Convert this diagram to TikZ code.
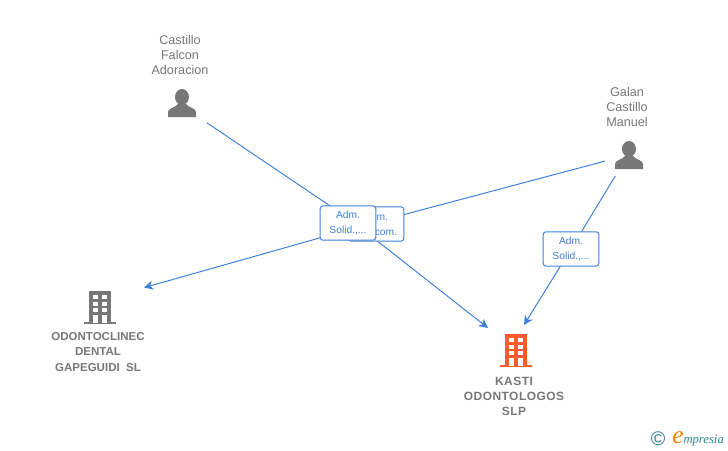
\documentclass[tikz,border=0pt]{standalone}
\usepackage{fontspec}
\setmainfont{Liberation Sans}
\newfontfamily\logofont{Liberation Serif}
\usetikzlibrary{arrows.meta}
\definecolor{gristexto}{HTML}{777777}
\definecolor{azul}{HTML}{3F80DC}
\definecolor{naranja}{HTML}{FF5B2E}
\definecolor{verdelogo}{HTML}{2F7F8F}
\tikzset{
  hueco/.style={shape=rectangle,inner sep=0pt,outer sep=0pt},
  nombre/.style={text=gristexto,align=center,font=\fontsize{9}{10.7}\selectfont},
  empresa/.style={nombre,font=\fontsize{8.2}{10.7}\selectfont\bfseries},
  cargo/.style={draw=azul,fill=white,rounded corners=2pt,line width=.7pt,minimum width=39.5pt,minimum height=24.5pt,inner sep=0pt,align=center,text=azul,font=\fontsize{7.3}{10.7}\selectfont,execute at begin node={\rule{0pt}{10pt}}},
  linea/.style={draw=azul,line width=.7pt},
  flecha/.style={linea,-{Stealth[length=6.5pt,width=6.5pt,inset=2pt]}},
  persona/.pic={
    \fill[gristexto] (0,-6) ellipse (7 and 8);
    \fill[gristexto] (-14,14) -- (-14,9) .. controls (-14,5) and (-7,5) .. (-4,1) -- (4,1) .. controls (7,5) and (14,5) .. (14,9) -- (14,14) -- cycle;
  },
  edificio/.pic={
    \fill (-16,31) rectangle (16,33);
    \fill (-11,0) rectangle (11,32);
    \foreach \y in {4,10.5,17}
      \foreach \x in {-7,2}
        \fill[white] (\x,\y) rectangle +(5,4);
    \foreach \x in {-7,2}
      \fill[white] (\x,23.5) rectangle +(5,8);
  }
}
\begin{document}
\begin{tikzpicture}[x=.025cm,y=-.025cm]
\useasboundingbox (0,0) rectangle (728,450);
% iconos
\pic at (182,103) {persona};
\pic at (629,155) {persona};
\pic[gristexto] at (100,291) {edificio};
\pic[naranja] at (516,334) {edificio};
% textos
\node[nombre] (txtcastillo) at (180,55) {Castillo\\Falcon\\Adoracion};
\node[nombre] (txtgalan) at (627,107) {Galan\\Castillo\\Manuel};
\node[empresa] (txtodonto) at (98,352) {ODONTOCLINEC\\DENTAL\\GAPEGUIDI\ \ SL};
\node[empresa,font=\fontsize{8.5}{10.7}\selectfont\bfseries\addfontfeature{LetterSpace=4}] (txtkasti) at (514,396) {KASTI\\ODONTOLOGOS\\SLP};
% nodos de enlace
\node[hueco,minimum width=35.5pt,minimum height=28.5pt] (castillo) at (182,106) {};
\node[hueco,minimum width=32.7pt,minimum height=29.9pt] (galan) at (628,155) {};
\node[hueco,minimum width=62.6pt,minimum height=28.5pt] (odonto) at (100,300) {};
\node[hueco,minimum width=32.7pt,minimum height=29.9pt] (kasti) at (511,346) {};
\coordinate (cruce1) at (348,218);
\coordinate (cruce2) at (376,222);
\coordinate (cruce3) at (571,249);
% enlaces
\draw[linea] (castillo) -- (cruce1);
\draw[flecha] (cruce1) -- (kasti);
\draw[linea] (galan) -- (cruce2);
\draw[flecha] (cruce2) -- (odonto);
\draw[linea] (galan) -- (cruce3);
\draw[flecha] (cruce3) -- (kasti);
\node[cargo] (mancom) at (376,224) {Adm.\\Mancom.};
\node[cargo] (solidario) at (348,223) {Adm.\\Solid.,...};
\node[cargo] (solidgalan) at (571,249) {Adm.\\Solid.,...};
% logo
\node[text=verdelogo,font=\fontsize{14}{14}\selectfont,inner sep=0pt] (copy) at (658,439) {©};
\node[anchor=west,inner sep=0pt,font=\logofont\fontsize{9}{9}\selectfont\itshape,text=verdelogo] (logo) at (672,439) {{\fontsize{18}{15}\selectfont\color{orange}e}mpresia};
\end{tikzpicture}
\end{document}
